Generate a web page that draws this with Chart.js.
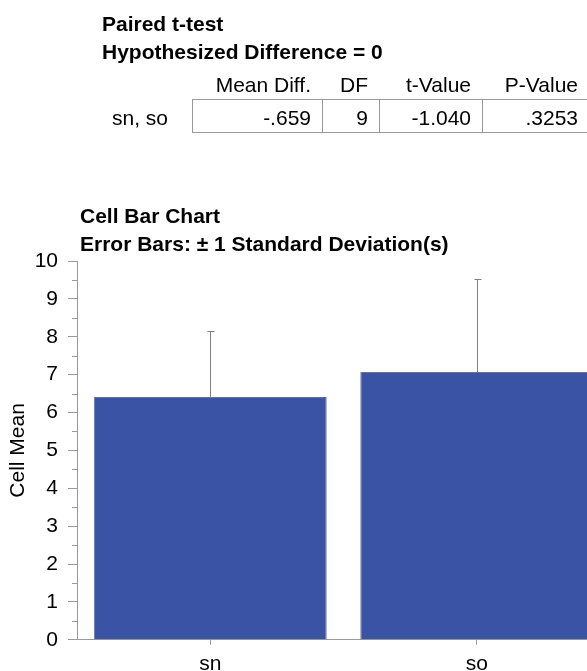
<!DOCTYPE html>
<html>
<head>
<meta charset="utf-8">
<script src="https://cdn.jsdelivr.net/npm/chart.js@4.4.1/dist/chart.umd.min.js"></script>
<style>
  html, body { margin: 0; padding: 0; background: #fff; overflow: hidden; width: 587px; height: 671px; }
  body { position: relative; font-family: 'Liberation Sans', Arial, Helvetica, sans-serif; color: #000; }
  #chartCanvas { position: absolute; left: 0; top: 0; }
  .txt { position: absolute; font-size: 21px; line-height: 21px; white-space: nowrap; z-index: 2; }
  .bold { font-weight: bold; }
  .right { text-align: right; }
  .cell { position: absolute; top: 99px; height: 34px; box-sizing: border-box;
          border-top: 1px solid #999; border-bottom: 1px solid #999; border-left: 1px solid #999; }
</style>
</head>
<body>
<canvas id="chartCanvas" width="610" height="684"></canvas>
<div id="overlay"></div>
<script>
// t-test table
const testTitle = 'Paired t-test';
const testSubtitle = 'Hypothesized Difference = 0';
const rowLabel = 'sn, so';
const tableHeaders = ['Mean Diff.', 'DF', 't-Value', 'P-Value'];
const tableValues = ['-.659', '9', '-1.040', '.3253'];

// bar chart
const chartTitle = 'Cell Bar Chart';
const chartSubtitle = 'Error Bars: \u00b1 1 Standard Deviation(s)';
const categories = ['sn', 'so'];
const cellMeans = [6.41, 7.07];
const cellSDs = [1.74, 2.46];
const yMin = 0, yMax = 10, yStep = 1, minorStep = 0.5;

const FONT = "'Liberation Sans', Arial, Helvetica, sans-serif";
const overlay = document.getElementById('overlay');

function addText(text, left, top, cls, width) {
  const d = document.createElement('div');
  d.className = 'txt ' + (cls || '');
  d.textContent = text;
  d.style.left = left + 'px';
  d.style.top = top + 'px';
  if (width) d.style.width = width + 'px';
  overlay.appendChild(d);
}

// titles (top = baseline - 17.8)
addText(testTitle, 102, 13, 'bold');
addText(testSubtitle, 102, 41, 'bold');
addText(chartTitle, 80, 205, 'bold');
addText(chartSubtitle, 80, 233, 'bold');

// table cells
const cellEdges = [192, 322, 379, 482, 600];
for (let i = 0; i < tableHeaders.length; i++) {
  const left = cellEdges[i], w = cellEdges[i + 1] - cellEdges[i];
  const c = document.createElement('div');
  c.className = 'cell';
  c.style.left = left + 'px';
  c.style.width = (w + 1) + 'px';
  overlay.appendChild(c);
  const textW = (i === tableHeaders.length - 1 ? 589 : cellEdges[i + 1]) - left - 11;
  addText(tableHeaders[i], left, 74, 'right', textW);
  addText(tableValues[i], left, 107, 'right', textW);
}
addText(rowLabel, 112, 107, '');

// minor ticks on y axis + upward error bars
const extras = {
  id: 'extras',
  afterDatasetsDraw(chart) {
    const ctx = chart.ctx, y = chart.scales.y;
    const meta = chart.getDatasetMeta(0);
    ctx.save();
    ctx.lineWidth = 1;
    ctx.strokeStyle = '#808080';
    meta.data.forEach((bar, i) => {
      const top = Math.round(y.getPixelForValue(cellMeans[i] + cellSDs[i])) + 0.5;
      const x = Math.round(bar.x) + 0.5;
      ctx.beginPath();
      ctx.moveTo(x, bar.y);
      ctx.lineTo(x, top);
      ctx.moveTo(x - 3, top);
      ctx.lineTo(x + 4, top);
      ctx.stroke();
    });
    ctx.strokeStyle = '#999';
    for (let v = yMin + minorStep; v < yMax; v += yStep) {
      const py = Math.round(y.getPixelForValue(v)) + 0.5;
      ctx.beginPath();
      ctx.moveTo(y.right - 5, py);
      ctx.lineTo(y.right, py);
      ctx.stroke();
    }
    ctx.restore();
  }
};

new Chart(document.getElementById('chartCanvas').getContext('2d'), {
  type: 'bar',
  data: {
    labels: categories,
    datasets: [{
      data: cellMeans,
      backgroundColor: '#3a53a4',
      borderColor: '#6b7290',
      borderWidth: 1,
      categoryPercentage: 1,
      barPercentage: 0.874
    }]
  },
  options: {
    responsive: false,
    animation: false,
    layout: { padding: { top: 261, left: 0, right: 0, bottom: 0 } },
    plugins: { legend: { display: false }, tooltip: { enabled: false } },
    scales: {
      x: {
        grid: { display: true, drawOnChartArea: false, offset: false, tickLength: 5, color: '#999' },
        border: { color: '#999' },
        ticks: { color: '#000', font: { family: FONT, size: 21 }, padding: 7 }
      },
      y: {
        min: yMin, max: yMax,
        ticks: { stepSize: yStep, color: '#000', font: { family: FONT, size: 21 }, padding: 10 },
        grid: { drawOnChartArea: false, tickLength: 9, color: '#999' },
        border: { color: '#999' },
        title: { display: true, text: 'Cell Mean', color: '#000', font: { family: FONT, size: 21 }, padding: { top: 6, bottom: 0 } },
        afterFit(scale) { scale.width = 77; }
      }
    }
  },
  plugins: [extras]
});
</script>
</body>
</html>
